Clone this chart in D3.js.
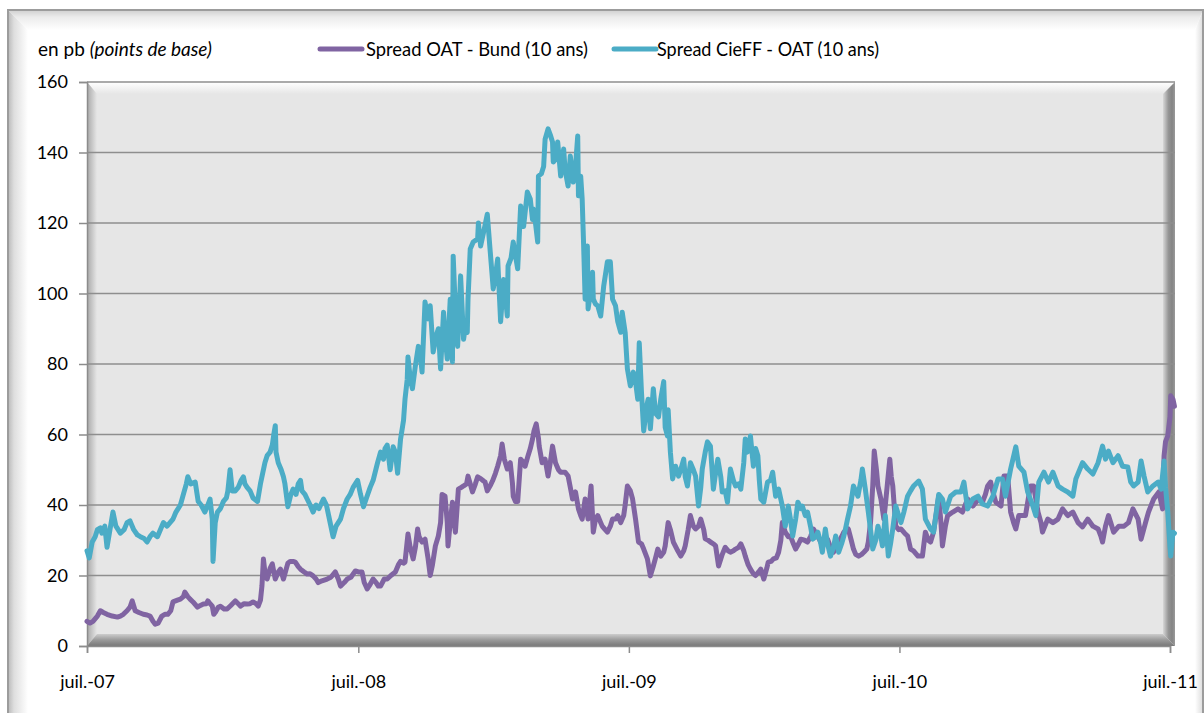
<!DOCTYPE html>
<html>
<head>
<meta charset="utf-8">
<script src="https://cdn.jsdelivr.net/npm/d3@7"></script>
<style>
  html, body { margin: 0; padding: 0; background: #ffffff; }
  svg { display: block; font-family: Lato, "Open Sans", sans-serif; }
</style>
</head>
<body>
<script>
// ---------- DATA ----------
// Dates are given as days since 1 July 2007; values in basis points.
const startDate = new Date(2007, 6, 1);

const seriesNames = ["Spread OAT - Bund (10 ans)", "Spread CieFF - OAT (10 ans)"];
const seriesColors = ["#8064A2", "#4BACC6"];

const yTicks = [0, 20, 40, 60, 80, 100, 120, 140, 160];
const xTickLabels = ["juil.-07", "juil.-08", "juil.-09", "juil.-10", "juil.-11"];
const xTickDates = ["2007-07-01", "2008-07-01", "2009-07-01", "2010-07-01", "2011-07-01"];

// Spread OAT - Bund (10 ans): [day, pb]
const oatBund = [
[0,7],[4,6.5],[8,7],[14,8.5],[18,10],[22,9.5],[27,9],[34,8.5],[41,8.2],[45,8.5],
[49,9],[54,10],[58,11],[61,12.8],[65,10],[70,9.5],[76,9],[81,8.8],[85,8.5],[89,7],
[92,6.2],[96,6.5],[101,8.5],[105,9],[109,9],[113,10],[116,12.5],[122,13],[126,13.3],[130,14],
[132,15.3],[136,14],[139,13.3],[143,12.5],[149,11],[153,11.5],[157,11.9],[161,12],[163,12.8],[166,12],
[169,11.3],[171,9],[173,9.5],[177,11],[180,11.3],[185,10.5],[189,10.5],[194,11.5],[200,12.8],[204,12],
[207,11.3],[212,12],[216,11.9],[220,12],[224,12.5],[228,12],[231,11.3],[234,13],[236,17],[238,24.7],
[240,21],[243,19],[247,22],[250,23.3],[252,21],[254,19],[258,21],[261,21.8],[265,19],[269,22],
[271,23.5],[274,24],[278,24],[281,23.8],[285,22.5],[288,21.8],[293,21],[297,20.4],[301,20.5],[305,19.9],
[309,19],[312,18],[317,18.5],[324,19],[329,19.5],[335,21],[339,19],[342,17],[347,18],[351,19],
[356,19.5],[362,21.3],[366,21],[371,21],[374,18],[378,16.2],[382,17.5],[386,19],[390,18],[393,17],
[396,17],[401,19],[405,19],[410,20],[416,21],[420,23],[423,24],[427,23.5],[429,23.8],[433,31.8],
[436,28],[440,24.7],[443,28],[446,33.2],[448,31],[452,29.5],[456,30.3],[460,25],[463,20],[466,23],
[470,28.4],[474,31.2],[477,35],[479,43],[483,42.5],[486,35],[487,28.4],[490,35],[493,40.8],[495,36],
[497,32.3],[501,44.5],[505,45],[508,45.4],[512,46],[514,48.2],[517,46],[520,43.7],[524,46],[527,48],
[531,47.5],[535,46.8],[537,46.5],[540,44],[544,45.5],[547,46.8],[551,49],[554,51],[558,54],[560,57.3],
[563,53],[567,50.2],[571,52],[574,46],[575,42.5],[578,41],[581,41],[583,47],[585,53],[589,52],
[591,51],[595,54],[598,56],[601,58.7],[603,61],[606,63],[609,59],[610,56.7],[614,52],[618,53],
[622,48.2],[625,52],[628,56.7],[632,52],[636,50],[639,49.3],[645,49.3],[649,48.2],[652,45],[655,41.7],
[659,43.7],[663,38.9],[666,37],[668,36],[672,41.7],[676,36],[680,45.4],[683,32.3],[686,36],[689,37],
[693,35],[695,34],[699,33],[702,32.3],[706,34],[709,36],[713,36],[716,37],[720,35],[724,37],
[726,40],[729,45.4],[733,44],[736,41.7],[740,36],[744,29.5],[748,29],[751,27.5],[756,24.7],[760,19.9],
[764,22.7],[767,25],[770,27.5],[774,25.5],[778,26.6],[780,28.4],[784,35],[787,33],[791,29.5],[797,27],
[801,25.5],[805,27],[807,28.4],[811,33],[814,37],[818,34],[821,33.2],[825,34],[828,36],[832,33],
[834,30.4],[838,30],[841,29.5],[845,29],[848,28.4],[852,22.7],[857,26],[861,28],[865,27],[868,26.6],
[872,27],[875,27.5],[879,28],[882,29],[886,27],[888,25.5],[892,23],[895,21.8],[899,20.5],[902,20],
[906,21],[909,21.8],[913,19],[917,22],[919,23.8],[923,24],[926,24.7],[930,25],[933,26.6],[936,30],
[938,35],[942,32.3],[946,31],[949,31.2],[953,29],[956,27.5],[960,29],[963,30.3],[968,30],[972,29.5],
[976,31],[980,33.2],[986,31],[990,29.5],[994,30],[999,30.3],[1003,28],[1007,26.6],[1011,28],[1014,29.5],
[1018,31],[1021,32.3],[1025,33],[1027,33.2],[1031,30],[1034,27.5],[1037,26],[1041,25.5],[1045,26],[1048,26.6],
[1052,27.5],[1054,29.5],[1057,35],[1060,45.4],[1062,55.3],[1065,50],[1067,45.4],[1071,41.7],[1075,36],[1077,40],
[1080,46.5],[1083,53],[1085,48],[1087,45.4],[1091,34],[1095,33],[1098,33.2],[1103,32],[1107,31.2],[1111,27.5],
[1115,27],[1121,25.5],[1127,25.5],[1131,32.3],[1135,30],[1138,29.5],[1142,32.3],[1146,38],[1149,42.5],[1152,35],
[1154,28.4],[1158,34],[1161,37],[1168,38],[1175,38.9],[1181,38],[1188,41.7],[1195,39.7],[1203,41.7],[1208,40.8],
[1212,43],[1215,45.4],[1219,46.5],[1223,43],[1226,40.8],[1233,39.7],[1237,48.2],[1242,48.2],[1246,38],[1250,35],
[1253,33.2],[1257,37],[1262,37],[1266,37],[1270,42],[1273,45.4],[1277,45.4],[1283,38],[1287,35],[1289,32.3],
[1296,36],[1303,35],[1310,36],[1316,38.9],[1323,37],[1330,38],[1337,35],[1343,33.8],[1350,36],[1357,34],
[1364,33.2],[1368,31],[1370,29.5],[1374,34],[1378,37],[1381,35],[1385,32.3],[1392,34],[1399,34],[1405,35],
[1411,38.9],[1418,36],[1422,30.3],[1428,35],[1432,38],[1439,41.7],[1446,43.7],[1451,38.9],[1453,54],[1455,58],
[1458,59.6],[1461,65],[1462,71],[1465,70],[1467,68]
];

// Spread CieFF - OAT (10 ans): [day, pb]
const cieffOat = [
[0,27],[3,25],[7,29.5],[11,31],[14,33],[18,33.5],[20,32],[24,34],[27,28],[31,33],
[35,38],[39,34],[45,32],[50,33],[54,35],[58,35.5],[63,33],[68,31.5],[72,31],[77,30.5],
[81,29.5],[85,31],[89,32],[95,31],[99,33],[103,35],[108,34],[112,35],[116,36],[120,38],
[126,40],[130,43],[134,46],[136,48],[140,46],[146,46.5],[150,41],[154,40],[159,38],[163,40],
[166,41.7],[169,36],[170,24],[173,35],[176,38],[180,39],[184,41],[188,42],[190,44],[193,50],
[196,44],[200,44],[204,45],[208,47],[211,48],[213,46],[216,45],[220,44],[224,42],[230,41],
[234,46],[238,50],[240,52],[243,54],[247,55],[250,57],[252,60],[254,62.5],[255,55],[258,52],
[262,50],[265,48],[267,46],[271,39.5],[275,43],[278,44.5],[282,43],[285,46],[288,47],[290,44],
[294,43],[297,41.7],[301,40],[305,38],[309,40],[313,39],[319,41.7],[323,40],[328,35],[332,31],
[336,34],[342,36],[346,39],[351,41.7],[355,43],[359,45],[365,47],[369,43],[373,39.5],[377,42],
[382,45],[386,47],[392,52],[396,55],[400,53],[402,56],[405,57],[409,50],[413,56.5],[416,55],
[419,49],[423,58.7],[427,64],[429,70],[432,75.7],[433,82],[436,76],[439,73],[443,79.5],[447,85],
[450,82],[452,77.7],[456,97.6],[460,92.8],[463,96.5],[467,83.4],[471,88],[474,90],[477,78.6],[481,94.7],
[483,88],[486,81.4],[490,98.4],[493,80.6],[494,110.6],[497,95],[500,85],[504,105],[508,87],[510,90],
[513,89],[514,98.4],[517,112.6],[521,114.6],[527,115.5],[528,120],[531,113.5],[535,117.4],[540,122.5],[544,111.8],
[548,101.3],[551,105],[554,109.8],[558,92],[562,104],[567,93.6],[568,107.8],[572,110],[575,114.6],[581,107],
[585,124.8],[589,119],[594,128.8],[598,126.8],[601,121],[602,124],[605,120],[608,114.6],[609,133.3],[613,134],
[616,136],[618,143.8],[622,146.7],[625,145],[628,143],[629,137.3],[632,138],[635,143],[639,133.3],[643,141],
[645,135],[649,130.5],[652,139],[656,131.6],[659,136],[662,144.7],[663,127.7],[666,133.3],[668,126.8],[670,113.5],
[672,98.4],[675,113.5],[676,95.6],[679,100],[682,106],[683,98.4],[686,97],[689,96.5],[693,93.6],[697,102],
[702,109],[706,109],[709,98.4],[713,96.5],[716,92],[720,89],[722,94.7],[726,89],[729,78.6],[733,73.8],
[737,77.7],[740,75],[743,70],[745,86],[748,72],[751,61],[755,68],[757,70],[760,61.6],[764,73],
[767,66],[771,65],[774,70],[778,75],[780,62],[783,59.6],[784,67],[787,55],[790,47.4],[794,51],
[798,48.2],[801,50],[805,53],[807,48],[810,45.4],[814,52],[818,50],[821,48.2],[825,39.7],[828,45],
[830,50.2],[834,55],[837,57.9],[841,56.7],[845,44.5],[848,49],[851,53],[855,48],[857,43.7],[861,44],
[864,40.8],[868,50.2],[872,47],[875,45.4],[879,46],[882,44.5],[886,52],[888,58.7],[891,55],[895,59.6],
[899,51],[902,56],[905,54],[907,47],[909,41.7],[913,40.8],[918,46.5],[922,47],[925,49.3],[929,42.5],
[933,44.5],[938,39.7],[942,34],[946,39.7],[949,36],[952,31.2],[956,36],[959,40.8],[963,39],[965,39.7],
[969,37],[972,38],[976,34],[979,30.3],[983,31],[986,32.3],[990,29],[992,26.6],[996,33.2],[999,29],
[1003,25.5],[1007,28],[1010,31.2],[1014,26.6],[1018,29],[1021,31.2],[1023,33],[1026,36],[1030,39.7],[1034,45.4],
[1040,42.5],[1044,47],[1046,50.2],[1050,44.5],[1054,38],[1057,33],[1060,27.5],[1064,30],[1067,34],[1071,31],
[1073,28.4],[1077,37],[1081,25.5],[1084,29],[1087,33.2],[1091,39.7],[1098,35],[1102,38],[1107,42.5],[1111,44],
[1115,45.4],[1122,46.8],[1127,44.5],[1131,36],[1138,33.2],[1142,32.3],[1149,43],[1154,41.7],[1158,38],[1165,42.5],
[1172,43.7],[1179,43.7],[1183,46.5],[1188,38.9],[1195,41.7],[1202,42.5],[1208,40.3],[1215,39.7],[1222,42.5],[1229,47.4],
[1235,47.4],[1239,42.5],[1246,50.2],[1253,56.5],[1257,51],[1264,49.3],[1269,43.7],[1276,39.7],[1280,37],[1284,46.5],
[1291,49.3],[1297,46.5],[1303,49.3],[1310,45.4],[1316,44.5],[1323,43.7],[1330,42.5],[1334,47.4],[1343,52],[1350,50.2],
[1357,48.8],[1364,52],[1370,56.7],[1374,53],[1378,55.3],[1384,52],[1391,54],[1397,51],[1404,50.8],[1408,46.5],
[1412,45.4],[1418,46.5],[1422,52.5],[1426,48.2],[1431,43.7],[1438,45.4],[1445,46.5],[1449,44.5],[1453,52.5],[1455,45],
[1458,38],[1461,28],[1462,25.5],[1465,32.3],[1467,32]
];

// ---------- LAYOUT ----------
const W = 1204, H = 713;
const P = { left: 87, right: 1175, top: 82, bottom: 646, bev: 12 };

const svg = d3.select("body").append("svg").attr("width", W).attr("height", H);
const defs = svg.append("defs");

function grad(id, x1, y1, x2, y2, stops) {
  const g = defs.append("linearGradient").attr("id", id)
    .attr("x1", x1).attr("y1", y1).attr("x2", x2).attr("y2", y2);
  stops.forEach(s => g.append("stop").attr("offset", s[0]).attr("stop-color", s[1]));
}
grad("oTop", 0, 0, 0, 1, [[0, "#cfcfcf"], [0.35, "#ebebeb"], [1, "#ffffff"]]);
grad("oLeft", 0, 0, 1, 0, [[0, "#b9b9b9"], [0.3, "#dedede"], [1, "#ffffff"]]);
grad("oRight", 0, 0, 1, 0, [[0, "#ffffff"], [1, "#dcdcdc"]]);
grad("pTop", 0, 0, 0, 1, [[0, "#ffffff"], [1, "#e6e6e6"]]);
grad("pLeft", 0, 0, 1, 0, [[0, "#a8a8a8"], [1, "#e6e6e6"]]);
grad("pRight", 0, 0, 1, 0, [[0, "#d8d8d8"], [0.45, "#969696"], [0.75, "#848484"], [1, "#9a9a9a"]]);
grad("pBottom", 0, 0, 0, 1, [[0, "#cdcdcd"], [0.5, "#9a9a9a"], [1, "#787878"]]);

// ---------- OUTER FRAME ----------
const oL = 8, oT = 10, oR = 1203, oB = 725, ob = 20;
svg.append("rect").attr("x", oL).attr("y", oT).attr("width", oR - oL).attr("height", oB - oT)
  .attr("fill", "#ffffff");
svg.append("polygon").attr("points", [[oL, oT], [oR, oT], [oR - 8, oT + ob], [oL + ob, oT + ob]].join(" "))
  .attr("fill", "url(#oTop)");
svg.append("polygon").attr("points", [[oL, oT], [oL + ob, oT + ob], [oL + ob, oB], [oL, oB]].join(" "))
  .attr("fill", "url(#oLeft)");
svg.append("polygon").attr("points", [[oR, oT], [oR, oB], [oR - 8, oB], [oR - 8, oT + ob]].join(" "))
  .attr("fill", "url(#oRight)");
svg.append("rect").attr("x", oL).attr("y", oT).attr("width", oR - oL).attr("height", oB - oT)
  .attr("fill", "none").attr("stroke", "#9c9c9c").attr("stroke-width", 2);

// ---------- PLOT AREA ----------
const iL = P.left + 10, iR = P.right - P.bev, iT = P.top + P.bev, iB = P.bottom - P.bev;
svg.append("rect").attr("x", P.left).attr("y", P.top)
  .attr("width", P.right - P.left).attr("height", P.bottom - P.top).attr("fill", "#e6e6e6");
svg.append("polygon").attr("points", [[P.left, P.top], [P.right, P.top], [iR, iT], [iL, iT]].join(" "))
  .attr("fill", "url(#pTop)");
svg.append("polygon").attr("points", [[P.left, P.top], [iL, iT], [iL, iB], [P.left, P.bottom]].join(" "))
  .attr("fill", "url(#pLeft)");
svg.append("polygon").attr("points", [[P.right, P.top], [P.right, P.bottom], [iR, iB], [iR, iT]].join(" "))
  .attr("fill", "url(#pRight)");
svg.append("polygon").attr("points", [[P.left, P.bottom], [P.right, P.bottom], [iR, iB], [iL, iB]].join(" "))
  .attr("fill", "url(#pBottom)");

// ---------- SCALES ----------
const parse = d3.timeParse("%Y-%m-%d");
const x = d3.scaleTime()
  .domain([parse(xTickDates[0]), parse(xTickDates[xTickDates.length - 1])])
  .range([87, 1170]);
const y = d3.scaleLinear().domain([0, 160]).range([P.bottom, P.top]);

// gridlines
svg.append("g").selectAll("line").data(yTicks.filter(v => v > 0)).join("line")
  .attr("x1", P.left).attr("x2", P.right)
  .attr("y1", d => y(d)).attr("y2", d => y(d))
  .attr("stroke", "#8e8e8e").attr("stroke-width", 1.5);

// Y axis
const yAxis = svg.append("g").attr("transform", `translate(${P.left},0)`)
  .call(d3.axisLeft(y).tickValues(yTicks).tickSize(8).tickPadding(11).tickFormat(d3.format("d")));
yAxis.select(".domain").attr("stroke", "#8c8c8c").attr("stroke-width", 1.5);
yAxis.selectAll(".tick line").attr("stroke", "#8c8c8c").attr("stroke-width", 1.5);
yAxis.selectAll(".tick text").attr("font-size", 18).attr("fill", "#000")
  .attr("font-family", "Lato, 'Open Sans', sans-serif");

// X axis
const xAxis = svg.append("g").attr("transform", `translate(0,${P.bottom})`)
  .call(d3.axisBottom(x).tickValues(xTickDates.map(parse)).tickSize(7).tickPadding(22)
    .tickFormat((d, i) => xTickLabels[i]));
xAxis.select(".domain").attr("stroke", "#8c8c8c").attr("stroke-width", 1.5);
xAxis.selectAll(".tick line").attr("stroke", "#8c8c8c").attr("stroke-width", 1.5);
xAxis.selectAll(".tick text").attr("font-size", 18).attr("fill", "#000")
  .attr("font-family", "Lato, 'Open Sans', sans-serif");

// ---------- LINES ----------
const line = d3.line()
  .x(d => x(d3.timeDay.offset(startDate, d[0])))
  .y(d => y(d[1]));
[oatBund, cieffOat].forEach((s, i) => {
  svg.append("path").datum(s).attr("d", line)
    .attr("fill", "none").attr("stroke", seriesColors[i]).attr("stroke-width", 5)
    .attr("stroke-linejoin", "round").attr("stroke-linecap", "round");
});

// ---------- TITLE / LEGEND ----------
const unit = svg.append("text").attr("x", 38).attr("y", 56).attr("font-size", 19).attr("fill", "#000");
unit.append("tspan").text("en pb ");
unit.append("tspan").attr("font-style", "italic").text("(points de base)");

const legendX = [320, 614];
const legendTextX = [366, 657];
seriesNames.forEach((name, i) => {
  svg.append("line").attr("x1", legendX[i]).attr("x2", legendX[i] + 42)
    .attr("y1", 49).attr("y2", 49)
    .attr("stroke", seriesColors[i]).attr("stroke-width", 5).attr("stroke-linecap", "round");
  svg.append("text").attr("x", legendTextX[i]).attr("y", 56).attr("font-size", 20).attr("fill", "#000")
    .attr("textLength", 222).attr("lengthAdjust", "spacingAndGlyphs").text(name);
});
</script>
</body>
</html>
